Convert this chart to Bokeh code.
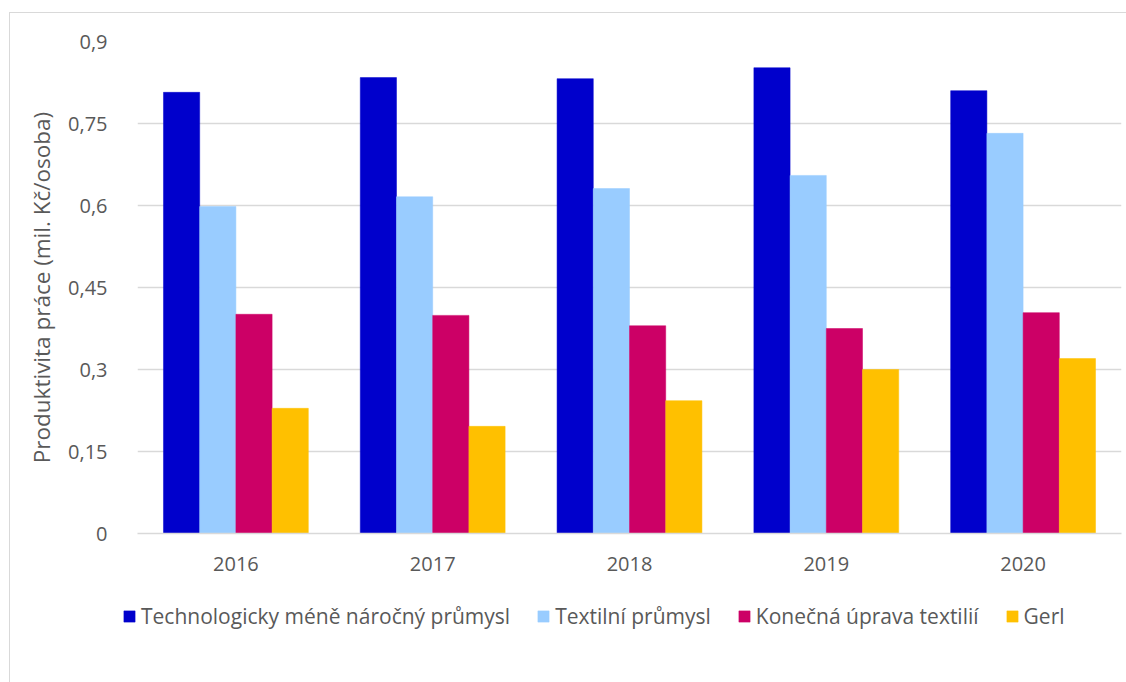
from bokeh.plotting import figure
from bokeh.layouts import column
from bokeh.models import ColumnDataSource, FactorRange, Range1d, FixedTicker, Legend, LegendItem
from bokeh.transform import dodge
from bokeh.embed import file_html
from bokeh.resources import INLINE

years = ["2016", "2017", "2018", "2019", "2020"]
series_names = ["Technologicky méně náročný průmysl", "Textilní průmysl",
                "Konečná úprava textilií", "Gerl"]
tech = [0.807, 0.834, 0.832, 0.852, 0.810]
textil = [0.598, 0.616, 0.631, 0.655, 0.732]
uprava = [0.401, 0.399, 0.380, 0.375, 0.404]
gerl = [0.229, 0.196, 0.243, 0.300, 0.320]
y_ticks = [0, 0.15, 0.3, 0.45, 0.6, 0.75, 0.9]
y_tick_labels = ["0", "0,15", "0,3", "0,45", "0,6", "0,75", "0,9"]

colors = ["#0000CC", "#99CCFF", "#CC0066", "#FFC000"]
FONT = "Open Sans"
TXT = "#595959"

src = ColumnDataSource(dict(year=years, tech=tech, textil=textil, uprava=uprava, gerl=gerl))
cols = ["tech", "textil", "uprava", "gerl"]

p = figure(x_range=FactorRange(*years), y_range=Range1d(0, 0.9),
           width=1116, height=577, output_backend="svg", toolbar_location=None,
           min_border_left=127, min_border_right=5, min_border_top=28, min_border_bottom=57)
p.outline_line_color = None
p.background_fill_color = "white"
p.border_fill_color = "white"

bw = 0.184
offsets = [-1.5 * bw, -0.5 * bw, 0.5 * bw, 1.5 * bw]
for col, off, c in zip(cols, offsets, colors):
    p.vbar(x=dodge("year", off, range=p.x_range), top=col, width=bw, source=src,
           fill_color=c, line_color=c, line_width=0.5)

p.xgrid.grid_line_color = None
p.ygrid.grid_line_color = "#d9d9d9"
p.ygrid.grid_line_width = 1.3
p.yaxis.ticker = FixedTicker(ticks=y_ticks)
p.yaxis.major_label_overrides = {t: l for t, l in zip(y_ticks, y_tick_labels)}
p.yaxis.axis_line_color = None
p.yaxis.major_tick_line_color = None
p.yaxis.minor_tick_line_color = None
p.yaxis.major_label_standoff = 24
p.yaxis.major_label_text_font = FONT
p.yaxis.major_label_text_font_size = "20px"
p.yaxis.major_label_text_color = TXT
p.yaxis.axis_label = "Produktivita práce (mil. Kč/osoba)"
p.yaxis.axis_label_text_font = FONT
p.yaxis.axis_label_text_font_size = "22.5px"
p.yaxis.axis_label_text_font_style = "normal"
p.yaxis.axis_label_text_color = TXT
p.yaxis.axis_label_standoff = 8

p.xaxis.axis_line_color = "#d9d9d9"
p.xaxis.axis_line_width = 1.3
p.xaxis.major_tick_line_color = None
p.xaxis.minor_tick_line_color = None
p.xaxis.major_label_standoff = 17
p.xaxis.major_label_text_font = FONT
p.xaxis.major_label_text_font_size = "20px"
p.xaxis.major_label_text_color = TXT

# legend strip (its bars lie outside its visible y range)
lf = figure(width=1116, height=92, output_backend="svg", toolbar_location=None,
            min_border=0, x_range=FactorRange(*years), y_range=Range1d(1, 2))
lf.frame_align = False
lf.axis.visible = False
lf.grid.visible = False
lf.outline_line_color = None
lf.background_fill_color = "white"
lf.border_fill_color = "white"
items = []
for n, col, off, c in zip(series_names, cols, offsets, colors):
    r = lf.vbar(x=dodge("year", off, range=lf.x_range), top=col, width=bw, source=src,
                fill_color=c, line_color=c, line_width=0.5)
    items.append(LegendItem(label=n, renderers=[r]))
legend = Legend(items=items, orientation="horizontal", location=(112, 52),
                glyph_width=14, glyph_height=14, label_standoff=5, spacing=26,
                padding=0, margin=0, border_line_color=None, background_fill_alpha=0,
                label_text_font=FONT, label_text_font_size="21px", label_text_color=TXT)
lf.add_layout(legend, "center")

layout = column(p, lf, spacing=0, margin=(12, 0, 0, 9),
                styles={"border-left": "1px solid #d9d9d9", "border-top": "1px solid #d9d9d9"})

open("out.html", "w").write(file_html(layout, INLINE))
